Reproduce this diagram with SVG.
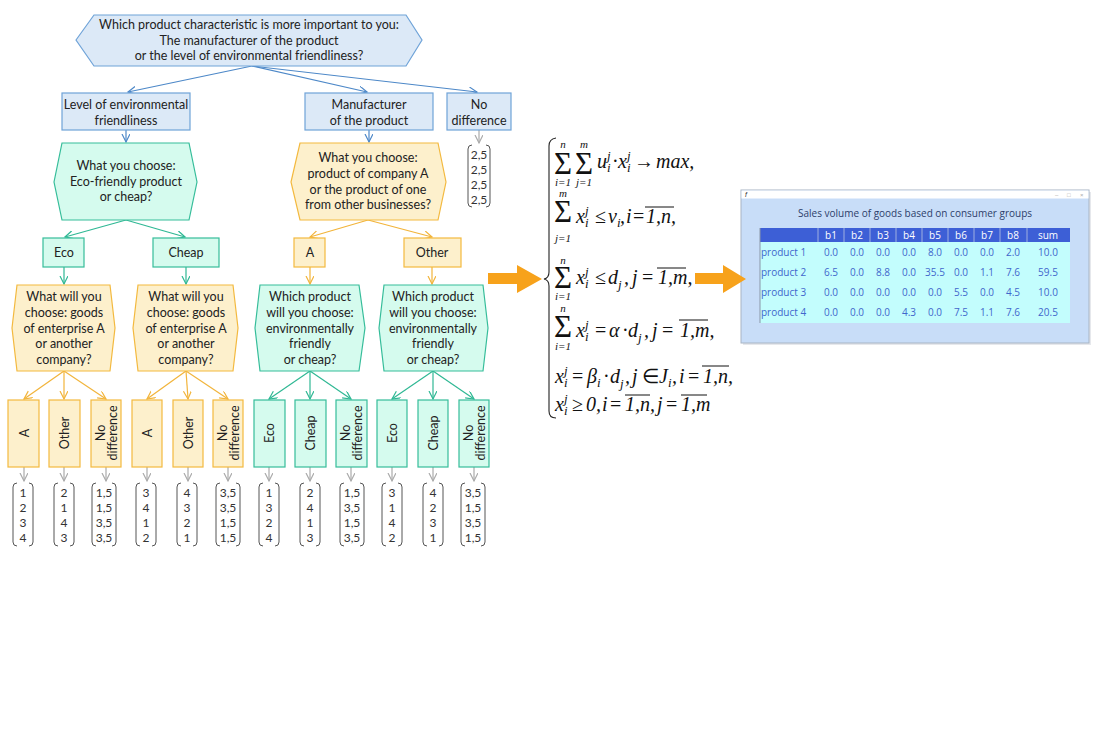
<svg xmlns="http://www.w3.org/2000/svg" width="1100" height="732" viewBox="0 0 1100 732">
<defs>
<style>
.t{font-family:Lato,"Open Sans","Liberation Sans",sans-serif;font-size:12.5px;fill:#222;text-anchor:middle}
.v{font-family:Lato,"Open Sans","Liberation Sans",sans-serif;font-size:12px;fill:#333;text-anchor:middle}
.bl{fill:#dce9f7;stroke:#6fa3d8;stroke-width:1.2}
.te{fill:#d5fbee;stroke:#36bd9a;stroke-width:1.2}
.or{fill:#fdf0cc;stroke:#f3b93f;stroke-width:1.2}
.cb{stroke:#4d88c8;stroke-width:1.2;fill:none;marker-end:url(#mb)}
.ct{stroke:#2fb894;stroke-width:1.2;fill:none;marker-end:url(#mt)}
.co{stroke:#f2b43a;stroke-width:1.2;fill:none;marker-end:url(#mo)}
.cg{stroke:#aaaaaa;stroke-width:1.2;fill:none;marker-end:url(#mg)}
.br{stroke:#555;stroke-width:1;fill:none}
.m{font-family:"Liberation Serif","Times New Roman",serif;font-size:20px;font-style:italic;fill:#111}
.mr{font-style:normal}
.s{font-size:13px}
.lim{font-family:"Liberation Serif","Times New Roman",serif;font-size:11px;font-style:italic;fill:#111;text-anchor:middle}
.sig{font-family:"Liberation Serif","Times New Roman",serif;font-size:31px;fill:#111}
.ov{stroke:#111;stroke-width:1}
.tb{font-family:"Open Sans",Lato,"Liberation Sans",sans-serif;font-size:10px;text-anchor:middle}
</style>
<marker id="mb" markerWidth="10" markerHeight="10" refX="8" refY="4" orient="auto" markerUnits="userSpaceOnUse"><path d="M0,0 L8,4 L0,8" fill="none" stroke="#4d88c8" stroke-width="1.2"/></marker>
<marker id="mt" markerWidth="10" markerHeight="10" refX="8" refY="4" orient="auto" markerUnits="userSpaceOnUse"><path d="M0,0 L8,4 L0,8" fill="none" stroke="#2fb894" stroke-width="1.2"/></marker>
<marker id="mo" markerWidth="10" markerHeight="10" refX="8" refY="4" orient="auto" markerUnits="userSpaceOnUse"><path d="M0,0 L8,4 L0,8" fill="none" stroke="#f2b43a" stroke-width="1.2"/></marker>
<marker id="mg" markerWidth="10" markerHeight="10" refX="8" refY="4" orient="auto" markerUnits="userSpaceOnUse"><path d="M0,0 L8,4 L0,8" fill="none" stroke="#aaaaaa" stroke-width="1.2"/></marker>
</defs>
<rect width="1100" height="732" fill="#ffffff"/>

<g id="connectors">
<line class="cb" x1="252" y1="66" x2="128" y2="92"/>
<line class="cb" x1="252" y1="66" x2="367" y2="92"/>
<line class="cb" x1="252" y1="66" x2="477" y2="92"/>
<line class="cb" x1="126" y1="130" x2="126" y2="142"/>
<line class="cb" x1="369" y1="130" x2="369" y2="142"/>
<line class="cg" x1="479" y1="130" x2="479" y2="143"/>
<line class="ct" x1="126" y1="220" x2="65" y2="237"/>
<line class="ct" x1="126" y1="220" x2="185" y2="237"/>
<line class="co" x1="368" y1="220" x2="310" y2="237"/>
<line class="co" x1="368" y1="220" x2="432" y2="237"/>
<line class="ct" x1="64" y1="267" x2="64" y2="284"/>
<line class="ct" x1="186" y1="267" x2="186" y2="284"/>
<line class="co" x1="310" y1="267" x2="310" y2="284"/>
<line class="co" x1="432" y1="267" x2="432" y2="284"/>
<line class="co" x1="64" y1="371" x2="24" y2="399"/>
<line class="co" x1="64" y1="371" x2="64" y2="399"/>
<line class="co" x1="64" y1="371" x2="106" y2="399"/>
<line class="co" x1="186" y1="371" x2="147" y2="399"/>
<line class="co" x1="186" y1="371" x2="188" y2="399"/>
<line class="co" x1="186" y1="371" x2="228" y2="399"/>
<line class="ct" x1="310" y1="371" x2="269" y2="399"/>
<line class="ct" x1="310" y1="371" x2="310" y2="399"/>
<line class="ct" x1="310" y1="371" x2="351" y2="399"/>
<line class="ct" x1="433" y1="371" x2="392" y2="399"/>
<line class="ct" x1="433" y1="371" x2="433" y2="399"/>
<line class="ct" x1="433" y1="371" x2="474" y2="399"/>
<line class="cg" x1="24" y1="467" x2="24" y2="481"/>
<line class="cg" x1="64" y1="467" x2="64" y2="481"/>
<line class="cg" x1="106" y1="467" x2="106" y2="481"/>
<line class="cg" x1="147" y1="467" x2="147" y2="481"/>
<line class="cg" x1="188" y1="467" x2="188" y2="481"/>
<line class="cg" x1="228" y1="467" x2="228" y2="481"/>
<line class="cg" x1="269" y1="467" x2="269" y2="481"/>
<line class="cg" x1="310" y1="467" x2="310" y2="481"/>
<line class="cg" x1="351" y1="467" x2="351" y2="481"/>
<line class="cg" x1="392" y1="467" x2="392" y2="481"/>
<line class="cg" x1="433" y1="467" x2="433" y2="481"/>
<line class="cg" x1="474" y1="467" x2="474" y2="481"/>
</g>

<g id="q-main">
<polygon class="bl" points="76,40 94,15 406,15 422,40 406,66 94,66"/>
<text class="t" x="249" y="29">Which product characteristic is more important to you:</text>
<text class="t" x="249" y="45">The manufacturer of the product</text>
<text class="t" x="249" y="60">or the level of environmental friendliness?</text>
</g>
<g id="b-level">
<rect class="bl" x="62" y="93" width="128" height="37"/>
<text class="t" x="126" y="109">Level of environmental</text>
<text class="t" x="126" y="125">friendliness</text>
</g>
<g id="b-manuf">
<rect class="bl" x="305" y="93" width="128" height="37"/>
<text class="t" x="369" y="109">Manufacturer</text>
<text class="t" x="369" y="125">of the product</text>
</g>
<g id="b-nodiff">
<rect class="bl" x="447" y="93" width="64" height="37"/>
<text class="t" x="479" y="109">No</text>
<text class="t" x="479" y="125">difference</text>
</g>
<g id="v-top">
<path class="br" d="M472,145 Q468,145 468,149 L468,203 Q468,207 472,207 M486,145 Q490,145 490,149 L490,203 Q490,207 486,207"/>
<text class="v" x="479" y="159">2,5</text>
<text class="v" x="479" y="174">2,5</text>
<text class="v" x="479" y="189">2,5</text>
<text class="v" x="479" y="204">2,5</text>
</g>

<g id="q-eco">
<polygon class="te" points="54,182 62,143 189,143 197,182 189,220 62,220"/>
<text class="t" x="126" y="170">What you choose:</text>
<text class="t" x="126" y="186">Eco-friendly product</text>
<text class="t" x="126" y="201">or cheap?</text>
</g>
<g id="q-comp">
<polygon class="or" points="291,182 300,143 438,143 446,182 438,220 300,220"/>
<text class="t" x="368" y="162">What you choose:</text>
<text class="t" x="368" y="178">product of company A</text>
<text class="t" x="368" y="194">or the product of one</text>
<text class="t" x="368" y="209">from other businesses?</text>
</g>
<g id="b-eco"><rect class="te" x="43" y="238" width="41" height="29"/><text class="t" x="64" y="257">Eco</text></g>
<g id="b-cheap"><rect class="te" x="153" y="238" width="66" height="29"/><text class="t" x="186" y="257">Cheap</text></g>
<g id="b-a"><rect class="or" x="294" y="238" width="31" height="29"/><text class="t" x="310" y="257">A</text></g>
<g id="b-other"><rect class="or" x="404" y="238" width="57" height="29"/><text class="t" x="432" y="257">Other</text></g>

<g id="q-eco-ent">
<polygon class="or" points="12,328 17,285 110,285 115,328 110,371 17,371"/>
<text class="t" x="64" y="301">What will you</text>
<text class="t" x="64" y="317">choose: goods</text>
<text class="t" x="64" y="333">of enterprise A</text>
<text class="t" x="64" y="348">or another</text>
<text class="t" x="64" y="364">company?</text>
</g>
<g id="q-cheap-ent">
<polygon class="or" points="133,328 138,285 233,285 238,328 233,371 138,371"/>
<text class="t" x="186" y="301">What will you</text>
<text class="t" x="186" y="317">choose: goods</text>
<text class="t" x="186" y="333">of enterprise A</text>
<text class="t" x="186" y="348">or another</text>
<text class="t" x="186" y="364">company?</text>
</g>
<g id="q-a-eco">
<polygon class="te" points="255,328 260,285 359,285 365,328 359,371 260,371"/>
<text class="t" x="310" y="301">Which product</text>
<text class="t" x="310" y="317">will you choose:</text>
<text class="t" x="310" y="333">environmentally</text>
<text class="t" x="310" y="348">friendly</text>
<text class="t" x="310" y="364">or cheap?</text>
</g>
<g id="q-other-eco">
<polygon class="te" points="379,328 384,285 483,285 488,328 483,371 384,371"/>
<text class="t" x="433" y="301">Which product</text>
<text class="t" x="433" y="317">will you choose:</text>
<text class="t" x="433" y="333">environmentally</text>
<text class="t" x="433" y="348">friendly</text>
<text class="t" x="433" y="364">or cheap?</text>
</g>

<g id="l1"><rect class="or" x="8" y="400" width="31" height="67"/><text class="t" transform="translate(24,433) rotate(-90)" y="4.5">A</text></g>
<g id="l2"><rect class="or" x="49" y="400" width="31" height="67"/><text class="t" transform="translate(64,433) rotate(-90)" y="4.5">Other</text></g>
<g id="l3"><rect class="or" x="91" y="400" width="30" height="67"/><text class="t" transform="translate(106,433) rotate(-90)"><tspan x="0" y="-1.5">No</tspan><tspan x="0" y="11">difference</tspan></text></g>
<g id="l4"><rect class="or" x="132" y="400" width="30" height="67"/><text class="t" transform="translate(147,433) rotate(-90)" y="4.5">A</text></g>
<g id="l5"><rect class="or" x="173" y="400" width="30" height="67"/><text class="t" transform="translate(188,433) rotate(-90)" y="4.5">Other</text></g>
<g id="l6"><rect class="or" x="213" y="400" width="30" height="67"/><text class="t" transform="translate(228,433) rotate(-90)"><tspan x="0" y="-1.5">No</tspan><tspan x="0" y="11">difference</tspan></text></g>
<g id="l7"><rect class="te" x="254" y="400" width="31" height="67"/><text class="t" transform="translate(269,433) rotate(-90)" y="4.5">Eco</text></g>
<g id="l8"><rect class="te" x="295" y="400" width="31" height="67"/><text class="t" transform="translate(310,433) rotate(-90)" y="4.5">Cheap</text></g>
<g id="l9"><rect class="te" x="336" y="400" width="31" height="67"/><text class="t" transform="translate(351,433) rotate(-90)"><tspan x="0" y="-1.5">No</tspan><tspan x="0" y="11">difference</tspan></text></g>
<g id="l10"><rect class="te" x="377" y="400" width="30" height="67"/><text class="t" transform="translate(392,433) rotate(-90)" y="4.5">Eco</text></g>
<g id="l11"><rect class="te" x="418" y="400" width="30" height="67"/><text class="t" transform="translate(433,433) rotate(-90)" y="4.5">Cheap</text></g>
<g id="l12"><rect class="te" x="459" y="400" width="30" height="67"/><text class="t" transform="translate(474,433) rotate(-90)"><tspan x="0" y="-1.5">No</tspan><tspan x="0" y="11">difference</tspan></text></g>

<g id="vectors">
<path class="br" d="M17,483 Q13,483 13,487 L13,542 Q13,546 17,546 M29,483 Q33,483 33,487 L33,542 Q33,546 29,546"/>
<text class="v" x="23" y="497">1</text><text class="v" x="23" y="512">2</text><text class="v" x="23" y="527">3</text><text class="v" x="23" y="542">4</text>
<path class="br" d="M58,483 Q54,483 54,487 L54,542 Q54,546 58,546 M70,483 Q74,483 74,487 L74,542 Q74,546 70,546"/>
<text class="v" x="64" y="497">2</text><text class="v" x="64" y="512">1</text><text class="v" x="64" y="527">4</text><text class="v" x="64" y="542">3</text>
<path class="br" d="M96,483 Q92,483 92,487 L92,542 Q92,546 96,546 M112,483 Q116,483 116,487 L116,542 Q116,546 112,546"/>
<text class="v" x="104" y="497">1,5</text><text class="v" x="104" y="512">1,5</text><text class="v" x="104" y="527">3,5</text><text class="v" x="104" y="542">3,5</text>
<path class="br" d="M140,483 Q136,483 136,487 L136,542 Q136,546 140,546 M152,483 Q156,483 156,487 L156,542 Q156,546 152,546"/>
<text class="v" x="146" y="497">3</text><text class="v" x="146" y="512">4</text><text class="v" x="146" y="527">1</text><text class="v" x="146" y="542">2</text>
<path class="br" d="M181,483 Q177,483 177,487 L177,542 Q177,546 181,546 M193,483 Q197,483 197,487 L197,542 Q197,546 193,546"/>
<text class="v" x="187" y="497">4</text><text class="v" x="187" y="512">3</text><text class="v" x="187" y="527">2</text><text class="v" x="187" y="542">1</text>
<path class="br" d="M220,483 Q216,483 216,487 L216,542 Q216,546 220,546 M236,483 Q240,483 240,487 L240,542 Q240,546 236,546"/>
<text class="v" x="228" y="497">3,5</text><text class="v" x="228" y="512">3,5</text><text class="v" x="228" y="527">1,5</text><text class="v" x="228" y="542">1,5</text>
<path class="br" d="M263,483 Q259,483 259,487 L259,542 Q259,546 263,546 M275,483 Q279,483 279,487 L279,542 Q279,546 275,546"/>
<text class="v" x="269" y="497">1</text><text class="v" x="269" y="512">3</text><text class="v" x="269" y="527">2</text><text class="v" x="269" y="542">4</text>
<path class="br" d="M304,483 Q300,483 300,487 L300,542 Q300,546 304,546 M316,483 Q320,483 320,487 L320,542 Q320,546 316,546"/>
<text class="v" x="310" y="497">2</text><text class="v" x="310" y="512">4</text><text class="v" x="310" y="527">1</text><text class="v" x="310" y="542">3</text>
<path class="br" d="M344,483 Q340,483 340,487 L340,542 Q340,546 344,546 M360,483 Q364,483 364,487 L364,542 Q364,546 360,546"/>
<text class="v" x="352" y="497">1,5</text><text class="v" x="352" y="512">3,5</text><text class="v" x="352" y="527">1,5</text><text class="v" x="352" y="542">3,5</text>
<path class="br" d="M386,483 Q382,483 382,487 L382,542 Q382,546 386,546 M398,483 Q402,483 402,487 L402,542 Q402,546 398,546"/>
<text class="v" x="392" y="497">3</text><text class="v" x="392" y="512">1</text><text class="v" x="392" y="527">4</text><text class="v" x="392" y="542">2</text>
<path class="br" d="M427,483 Q423,483 423,487 L423,542 Q423,546 427,546 M439,483 Q443,483 443,487 L443,542 Q443,546 439,546"/>
<text class="v" x="433" y="497">4</text><text class="v" x="433" y="512">2</text><text class="v" x="433" y="527">3</text><text class="v" x="433" y="542">1</text>
<path class="br" d="M465,483 Q461,483 461,487 L461,542 Q461,546 465,546 M481,483 Q485,483 485,487 L485,542 Q485,546 481,546"/>
<text class="v" x="473" y="497">3,5</text><text class="v" x="473" y="512">1,5</text><text class="v" x="473" y="527">3,5</text><text class="v" x="473" y="542">1,5</text>
</g>

<g id="arrow-1"><polygon points="488,273 517,273 517,265 542,279 517,293 517,284 488,284" fill="#f7a21b"/></g>

<g id="formulas">
<path d="M556,138 Q549,139 549,146 L549,272 Q549,278 544,279 Q549,280 549,286 L549,411 Q549,418 556,418" fill="none" stroke="#222" stroke-width="1.1"/>
<!-- line 1 -->
<text class="sig" x="554" y="174">Σ</text>
<text class="lim" x="563" y="148">n</text>
<text class="lim" x="563" y="186">i=1</text>
<text class="sig" x="575" y="174">Σ</text>
<text class="lim" x="584" y="148">m</text>
<text class="lim" x="584" y="186">j=1</text>
<text class="m"><tspan x="597" y="168">u</tspan><tspan class="s" x="607" y="160">j</tspan><tspan class="s" x="607" y="172">i</tspan><tspan class="mr" x="612" y="168">·</tspan><tspan x="618" y="168">x</tspan><tspan class="s" x="627" y="160">j</tspan><tspan class="s" x="627" y="172">i</tspan><tspan class="mr" x="634" y="168">→</tspan><tspan x="656" y="168">max,</tspan></text>
<!-- line 2 -->
<text class="sig" x="554" y="222">Σ</text>
<text class="lim" x="563" y="197">m</text>
<text class="lim" x="563" y="242">j=1</text>
<text class="m"><tspan x="576" y="223">x</tspan><tspan class="s" x="585" y="215">j</tspan><tspan class="s" x="585" y="227">i</tspan><tspan class="mr" x="595" y="223">≤</tspan><tspan x="608" y="223">v</tspan><tspan class="s" x="617" y="227">i</tspan><tspan x="620" y="223">,</tspan><tspan x="626" y="223">i</tspan><tspan class="mr" x="633" y="223">=</tspan><tspan x="646" y="223">1,n,</tspan></text>
<line class="ov" x1="645" y1="207" x2="674" y2="207"/>
<!-- line 3 -->
<text class="sig" x="554" y="288">Σ</text>
<text class="lim" x="563" y="264">n</text>
<text class="lim" x="563" y="300">i=1</text>
<text class="m"><tspan x="576" y="284">x</tspan><tspan class="s" x="585" y="276">j</tspan><tspan class="s" x="585" y="288">i</tspan><tspan class="mr" x="595" y="284">≤</tspan><tspan x="608" y="284">d</tspan><tspan class="s" x="618" y="289">j</tspan><tspan x="624" y="284">,</tspan><tspan x="632" y="284">j</tspan><tspan class="mr" x="642" y="284">=</tspan><tspan x="658" y="284">1,m,</tspan></text>
<line class="ov" x1="657" y1="268" x2="686" y2="268"/>
<!-- line 4 -->
<text class="sig" x="554" y="337">Σ</text>
<text class="lim" x="563" y="312">n</text>
<text class="lim" x="563" y="350">i=1</text>
<text class="m"><tspan x="576" y="337">x</tspan><tspan class="s" x="585" y="329">j</tspan><tspan class="s" x="585" y="341">i</tspan><tspan class="mr" x="595" y="337">=</tspan><tspan x="609" y="337">α</tspan><tspan class="mr" x="622" y="337">·</tspan><tspan x="628" y="337">d</tspan><tspan class="s" x="638" y="342">j</tspan><tspan x="644" y="337">,</tspan><tspan x="652" y="337">j</tspan><tspan class="mr" x="662" y="337">=</tspan><tspan x="680" y="337">1,m,</tspan></text>
<line class="ov" x1="679" y1="320" x2="708" y2="320"/>
<!-- line 5 -->
<text class="m"><tspan x="555" y="383">x</tspan><tspan class="s" x="564" y="375">j</tspan><tspan class="s" x="564" y="387">i</tspan><tspan class="mr" x="572" y="383">=</tspan><tspan x="587" y="383">β</tspan><tspan class="s" x="597" y="387">i</tspan><tspan class="mr" x="603" y="383">·</tspan><tspan x="610" y="383">d</tspan><tspan class="s" x="620" y="388">j</tspan><tspan x="625" y="383">,</tspan><tspan x="632" y="383">j</tspan><tspan class="mr" x="642" y="383">∈</tspan><tspan x="659" y="383">J</tspan><tspan class="s" x="668" y="387">i</tspan><tspan x="672" y="383">,</tspan><tspan x="679" y="383">i</tspan><tspan class="mr" x="688" y="383">=</tspan><tspan x="703" y="383">1,n,</tspan></text>
<line class="ov" x1="702" y1="366" x2="729" y2="366"/>
<!-- line 6 -->
<text class="m"><tspan x="555" y="411">x</tspan><tspan class="s" x="564" y="403">j</tspan><tspan class="s" x="564" y="415">i</tspan><tspan class="mr" x="572" y="411">≥</tspan><tspan x="586" y="411">0,</tspan><tspan x="602" y="411">i</tspan><tspan class="mr" x="610" y="411">=</tspan><tspan x="625" y="411">1,n,</tspan><tspan x="657" y="411">j</tspan><tspan class="mr" x="666" y="411">=</tspan><tspan x="681" y="411">1,m</tspan></text>
<line class="ov" x1="625" y1="395" x2="650" y2="395"/>
<line class="ov" x1="681" y1="395" x2="707" y2="395"/>
</g>

<g id="window">
<rect x="743" y="192" width="348" height="153" fill="#d5d9e0" opacity="0.6"/>
<rect x="741" y="190" width="348" height="153" fill="#c8ddf8" stroke="#a8b4c4" stroke-width="1"/>
<rect x="741.5" y="190.5" width="347" height="8" fill="#ffffff"/>
<text x="745" y="197" font-family="Liberation Sans,sans-serif" font-size="7" font-style="italic" fill="#333">f</text>
<text x="1055" y="197" font-family="Liberation Sans,sans-serif" font-size="6" fill="#aaa">–</text>
<text x="1067" y="197" font-family="Liberation Sans,sans-serif" font-size="6" fill="#aaa">□</text>
<text x="1080" y="197" font-family="Liberation Sans,sans-serif" font-size="6" fill="#aaa">×</text>
<text class="tb" x="915" y="217" fill="#2d3d6b" font-size="10.8">Sales volume of goods based on consumer groups</text>
<rect x="760" y="242" width="310" height="81" fill="#c3fdfd"/>
<rect x="760" y="228" width="310" height="14" fill="#3d5fd6"/>
<line x1="760" y1="228" x2="760" y2="323" stroke="#8a96a8" stroke-width="1"/>
<g stroke="#9fb0e0" stroke-width="1">
<line x1="818" y1="228" x2="818" y2="242"/><line x1="844" y1="228" x2="844" y2="242"/><line x1="870" y1="228" x2="870" y2="242"/><line x1="896" y1="228" x2="896" y2="242"/><line x1="922" y1="228" x2="922" y2="242"/><line x1="948" y1="228" x2="948" y2="242"/><line x1="974" y1="228" x2="974" y2="242"/><line x1="1000" y1="228" x2="1000" y2="242"/><line x1="1027" y1="228" x2="1027" y2="242"/>
</g>
<g class="tb" fill="#ffffff" font-size="10.5">
<text x="831" y="239">b1</text><text x="857" y="239">b2</text><text x="883" y="239">b3</text><text x="909" y="239">b4</text><text x="935" y="239">b5</text><text x="961" y="239">b6</text><text x="987" y="239">b7</text><text x="1013" y="239">b8</text><text x="1048" y="239">sum</text>
</g>
<g class="tb" fill="#4166cc">
<text x="761" y="256" text-anchor="start">product 1</text>
<text x="831" y="256">0.0</text><text x="857" y="256">0.0</text><text x="883" y="256">0.0</text><text x="909" y="256">0.0</text><text x="935" y="256">8.0</text><text x="961" y="256">0.0</text><text x="987" y="256">0.0</text><text x="1013" y="256">2.0</text><text x="1048" y="256">10.0</text>
<text x="761" y="276" text-anchor="start">product 2</text>
<text x="831" y="276">6.5</text><text x="857" y="276">0.0</text><text x="883" y="276">8.8</text><text x="909" y="276">0.0</text><text x="935" y="276">35.5</text><text x="961" y="276">0.0</text><text x="987" y="276">1.1</text><text x="1013" y="276">7.6</text><text x="1048" y="276">59.5</text>
<text x="761" y="296" text-anchor="start">product 3</text>
<text x="831" y="296">0.0</text><text x="857" y="296">0.0</text><text x="883" y="296">0.0</text><text x="909" y="296">0.0</text><text x="935" y="296">0.0</text><text x="961" y="296">5.5</text><text x="987" y="296">0.0</text><text x="1013" y="296">4.5</text><text x="1048" y="296">10.0</text>
<text x="761" y="316" text-anchor="start">product 4</text>
<text x="831" y="316">0.0</text><text x="857" y="316">0.0</text><text x="883" y="316">0.0</text><text x="909" y="316">4.3</text><text x="935" y="316">0.0</text><text x="961" y="316">7.5</text><text x="987" y="316">1.1</text><text x="1013" y="316">7.6</text><text x="1048" y="316">20.5</text>
</g>
</g>

<g id="arrow-2"><polygon points="695,273 723,273 723,265 746,279 723,293 723,284 695,284" fill="#f7a21b"/></g>
</svg>
